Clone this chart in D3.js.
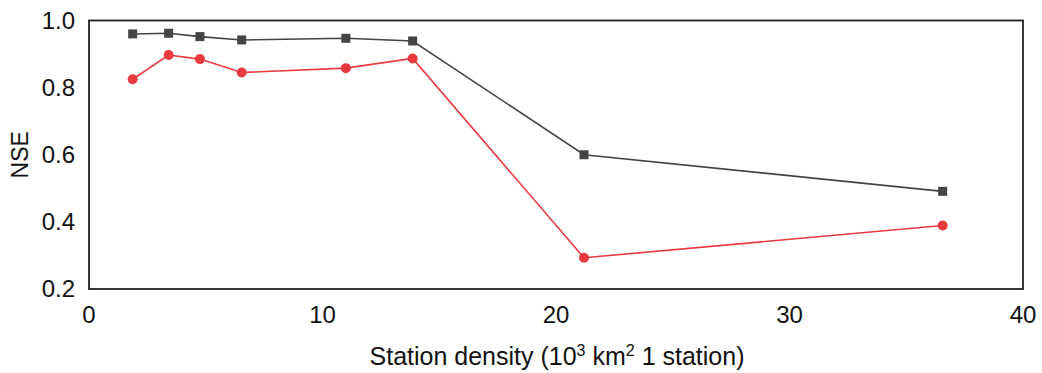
<!DOCTYPE html>
<html lang="en">
<head>
<meta charset="UTF-8">
<title>NSE vs station density</title>
<script src="https://d3js.org/d3.v7.min.js"></script>
<style>
  body { margin: 0; background: #fff; }
  text { font-family: Arial, "Liberation Sans", sans-serif; fill: #111; }
</style>
</head>
<body>
<div id="chart"></div>
<script>
// station density (10^3 km2 per station)
const density = [1.87, 3.41, 4.75, 6.54, 11.0, 13.86, 21.2, 36.56];
const nseGray = [0.960, 0.962, 0.952, 0.942, 0.947, 0.939, 0.600, 0.491];
const nseRed  = [0.825, 0.897, 0.885, 0.845, 0.858, 0.887, 0.293, 0.389];
const xTicks = [0, 10, 20, 30, 40];
const yTicks = [0.2, 0.4, 0.6, 0.8, 1.0];

const W = 1042, H = 373;
const m = {left: 89, right: 19, top: 20.5, bottom: 84};

const svg = d3.select("#chart").append("svg")
    .attr("width", W).attr("height", H);

const x = d3.scaleLinear().domain([0, 40]).range([m.left, W - m.right]);
const y = d3.scaleLinear().domain([0.2, 1.0]).range([H - m.bottom, m.top]);

// frame
svg.append("rect")
    .attr("x", x(0)).attr("y", y(1))
    .attr("width", x(40) - x(0)).attr("height", y(0.2) - y(1))
    .attr("fill", "none").attr("stroke", "#222").attr("stroke-width", 1.8);

// tick labels
svg.selectAll(".ylab").data(yTicks).enter().append("text")
    .attr("x", x(0) - 14).attr("y", d => y(d))
    .attr("dy", "0.35em").attr("text-anchor", "end")
    .style("font-size", "24px")
    .text(d => d.toFixed(1));

svg.selectAll(".xlab").data(xTicks).enter().append("text")
    .attr("x", d => x(d)).attr("y", y(0.2) + 34)
    .attr("text-anchor", "middle")
    .style("font-size", "24px")
    .text(d => d);

// axis titles
svg.append("text")
    .attr("transform", `translate(28,${(y(1) + y(0.2)) / 2}) rotate(-90)`)
    .attr("text-anchor", "middle")
    .style("font-size", "23px")
    .text("NSE");

const xt = svg.append("text")
    .attr("x", x(0) + (x(40) - x(0)) / 2 + 1).attr("y", 365)
    .attr("text-anchor", "middle")
    .style("font-size", "25px");
xt.append("tspan").text("Station density (10");
xt.append("tspan").attr("dy", -9).style("font-size", "16px").text("3");
xt.append("tspan").attr("dy", 9).text(" km");
xt.append("tspan").attr("dy", -9).style("font-size", "16px").text("2");
xt.append("tspan").attr("dy", 9).text(" 1 station)");

const line = d3.line().x(d => x(d[0])).y(d => y(d[1]));

const grayPts = d3.zip(density, nseGray);
const redPts = d3.zip(density, nseRed);

svg.append("path").datum(grayPts).attr("d", line)
    .attr("fill", "none").attr("stroke", "#444").attr("stroke-width", 1.6);
svg.selectAll(".sq").data(grayPts).enter().append("rect")
    .attr("x", d => x(d[0]) - 4.5).attr("y", d => y(d[1]) - 4.5)
    .attr("width", 9).attr("height", 9)
    .attr("fill", "#444");

svg.append("path").datum(redPts).attr("d", line)
    .attr("fill", "none").attr("stroke", "#e83a3f").attr("stroke-width", 1.6);
svg.selectAll(".dot").data(redPts).enter().append("circle")
    .attr("cx", d => x(d[0])).attr("cy", d => y(d[1]))
    .attr("r", 5)
    .attr("fill", "#e83a3f");
</script>
</body>
</html>
